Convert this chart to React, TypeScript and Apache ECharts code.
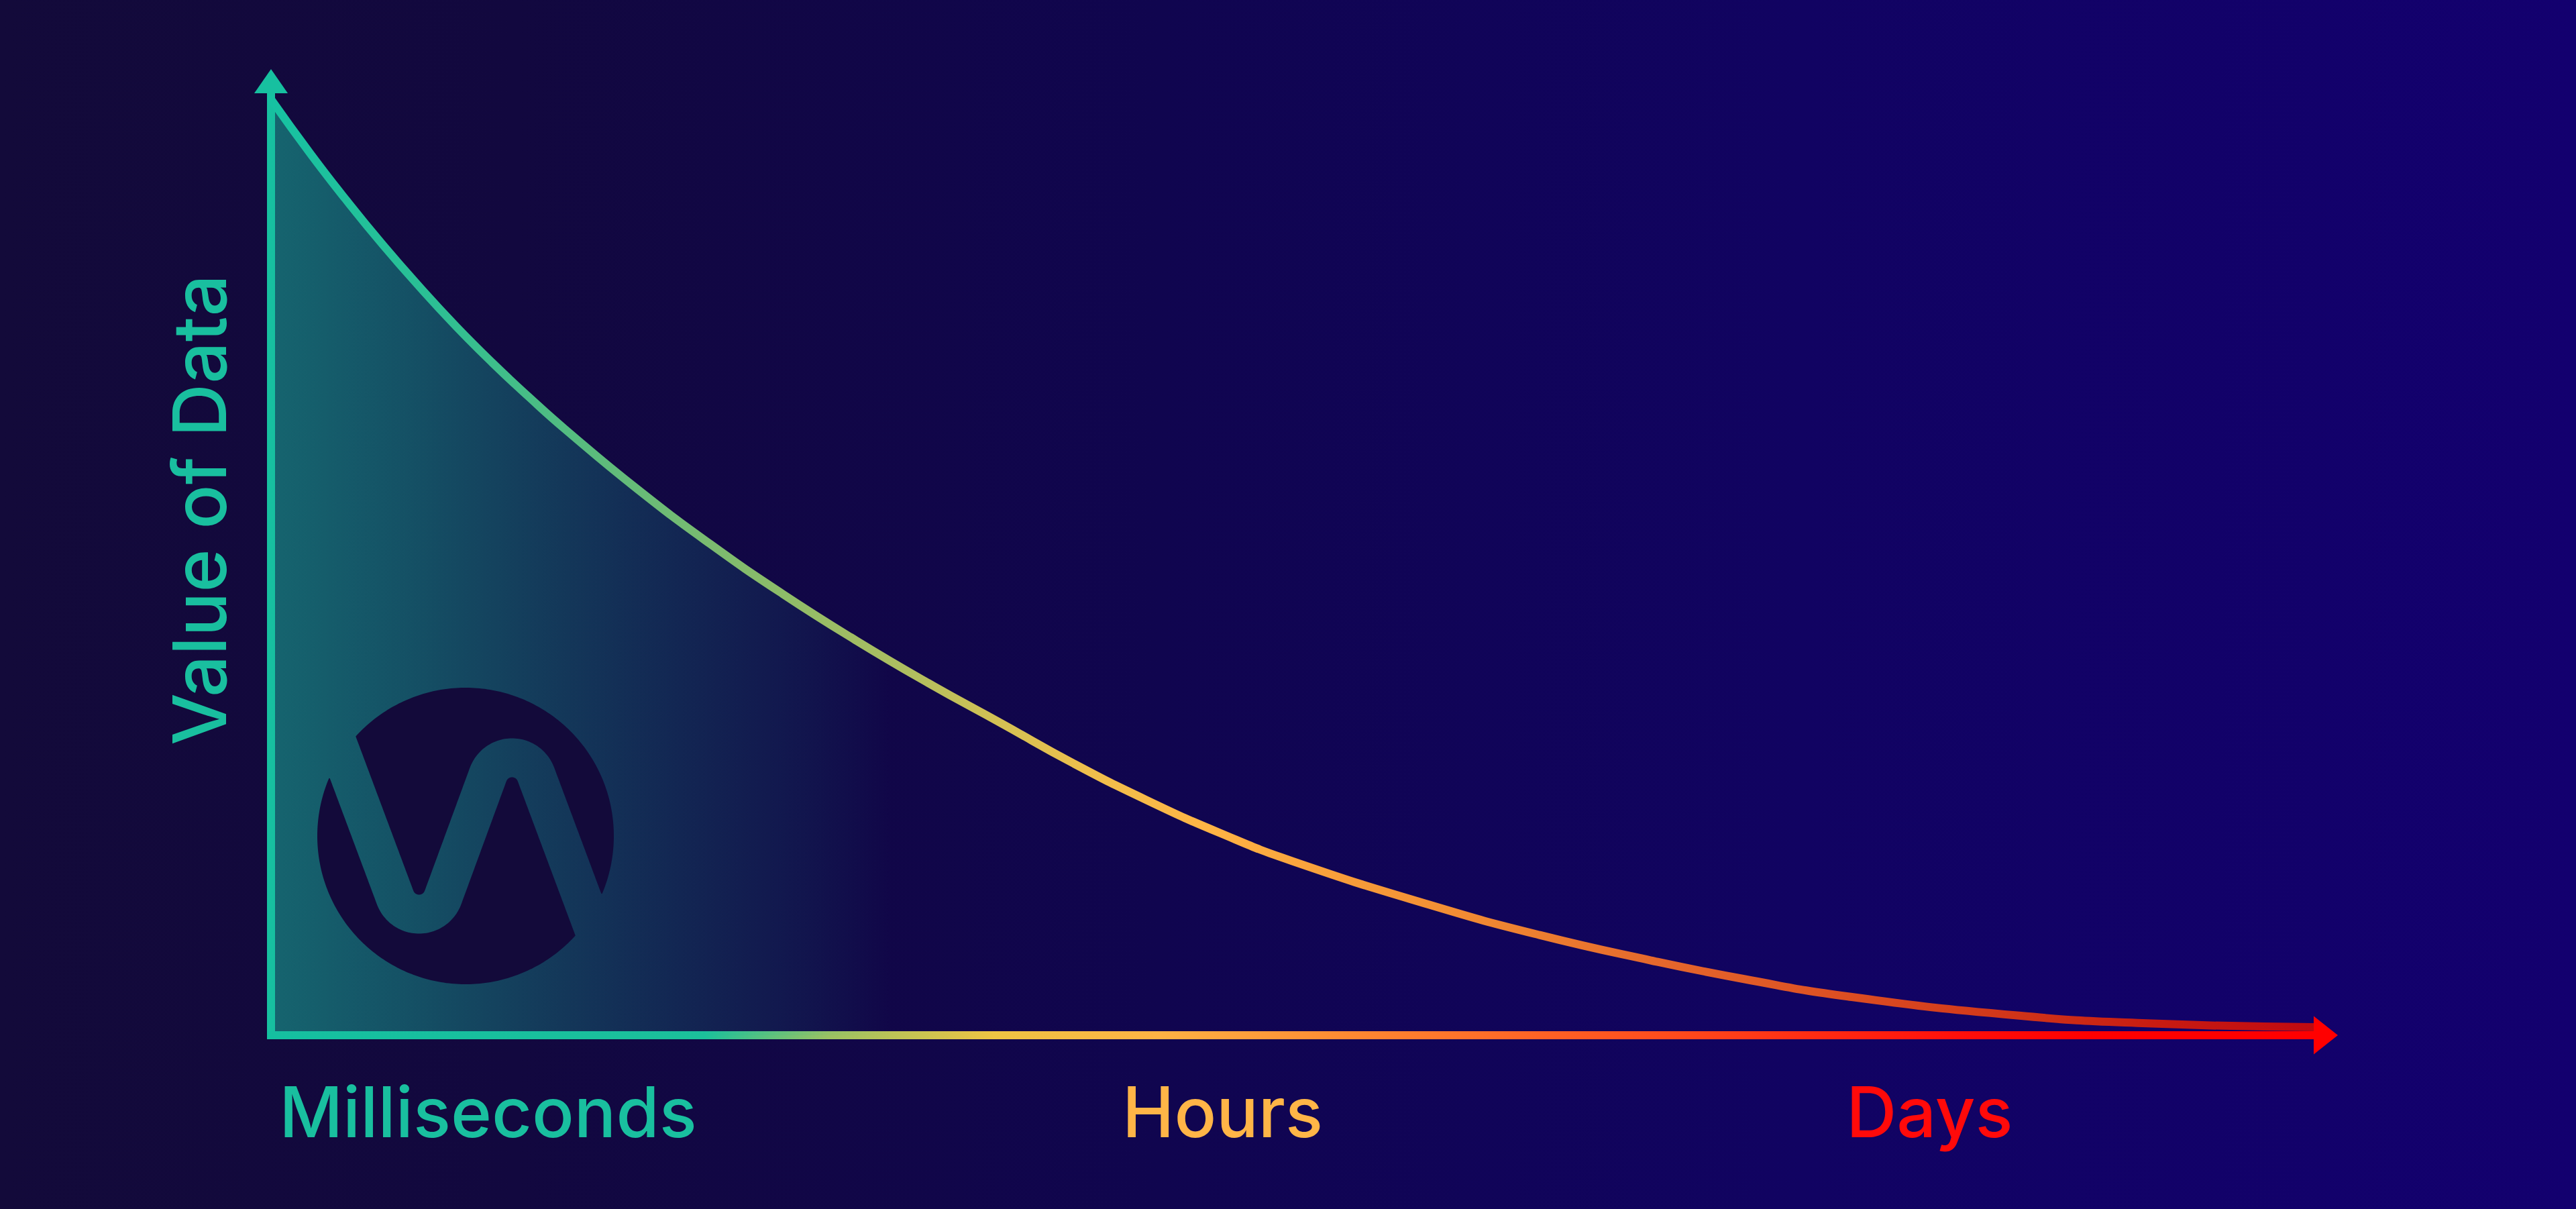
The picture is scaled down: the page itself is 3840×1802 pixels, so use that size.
import React, { useEffect, useRef } from "react";
import * as echarts from "echarts";

// ---- data ----
const timeValues = [0, 1.93, 3.69, 5.45, 7.22, 8.98, 10.77, 12.54, 14.3, 17.83, 21.38, 24.91, 28.47, 32.0, 35.55, 39.08, 42.6, 46.16, 49.69, 56.32, 61.74, 67.16, 71.69, 76.75, 85.08, 91.32, 99.44];
const dataValues = [98.1, 92.36, 87.46, 82.83, 78.46, 74.36, 70.49, 66.92, 63.54, 57.24, 51.48, 46.24, 41.38, 36.9, 32.68, 28.46, 24.66, 21.22, 18.26, 13.71, 10.5, 7.84, 5.89, 4.06, 2.05, 1.24, 0.85];
const scaleLabels = ["Milliseconds", "Hours", "Days"];
const scalePositions = [10.56, 46.31, 80.72];
const scaleColors = ["#19bf9f", "#ffb547", "#ff0a0a"];
const yTitle = "Value of Data";

// ---- layout / style constants ----
const GRID = { left: 404, right: 373, top: 121, bottom: 259 };
const AXIS_X0 = 404;
const ARROW_TIP_X = 3485;
const FADE_END_X = 1330;
const TEAL = "#17c0a0";
const FONT = "Inter";
const LOGO_BG = "#130a3a";

const areaAlphaStops: [number, number][] = [
  [0, 0.72],
  [0.23, 0.56],
  [0.42, 0.41],
  [0.57, 0.3],
  [0.69, 0.22],
  [0.86, 0.11],
  [1, 0],
];
const AREA_RGB = [24, 190, 160];

function nrm(a: number[]) {
  const l = Math.hypot(a[0], a[1]) || 1;
  return [a[0] / l, a[1] / l];
}
function roundedPolyline(pts: number[][], r: number, n = 30) {
  const out: number[][] = [pts[0]];
  for (let i = 1; i < pts.length - 1; i++) {
    const P = pts[i];
    const u1 = nrm([pts[i - 1][0] - P[0], pts[i - 1][1] - P[1]]);
    const u2 = nrm([pts[i + 1][0] - P[0], pts[i + 1][1] - P[1]]);
    const half = Math.acos(u1[0] * u2[0] + u1[1] * u2[1]) / 2;
    const d = r / Math.tan(half);
    const T1 = [P[0] + u1[0] * d, P[1] + u1[1] * d];
    const T2 = [P[0] + u2[0] * d, P[1] + u2[1] * d];
    const bis = nrm([u1[0] + u2[0], u1[1] + u2[1]]);
    const cd = r / Math.sin(half);
    const C = [P[0] + bis[0] * cd, P[1] + bis[1] * cd];
    const a1 = Math.atan2(T1[1] - C[1], T1[0] - C[0]);
    const a2 = Math.atan2(T2[1] - C[1], T2[0] - C[0]);
    let delta = a2 - a1;
    while (delta > Math.PI) delta -= 2 * Math.PI;
    while (delta < -Math.PI) delta += 2 * Math.PI;
    for (let k = 0; k <= n; k++) {
      const a = a1 + (delta * k) / n;
      out.push([C[0] + r * Math.cos(a), C[1] + r * Math.sin(a)]);
    }
  }
  out.push(pts[pts.length - 1]);
  return out;
}
function densify(pts: number[][], step: number) {
  const out: number[][] = [pts[0]];
  for (let i = 1; i < pts.length; i++) {
    const a = pts[i - 1];
    const b = pts[i];
    const L = Math.hypot(b[0] - a[0], b[1] - a[1]);
    const n = Math.max(1, Math.ceil(L / step));
    for (let k = 1; k <= n; k++) {
      out.push([a[0] + ((b[0] - a[0]) * k) / n, a[1] + ((b[1] - a[1]) * k) / n]);
    }
  }
  return out;
}
function offsetCurve(pts: number[][], d: number) {
  return pts.map((p, i) => {
    const a = pts[Math.max(0, i - 1)];
    const b = pts[Math.min(pts.length - 1, i + 1)];
    const t = nrm([b[0] - a[0], b[1] - a[1]]);
    return [p[0] + t[1] * d, p[1] - t[0] * d];
  });
}
function darkRegion(off: number[][], C: number[], R: number, decreasing: boolean) {
  const inside = off.filter((p) => Math.hypot(p[0] - C[0], p[1] - C[1]) < R);
  const first = inside[0];
  const last = inside[inside.length - 1];
  const aEntry = Math.atan2(first[1] - C[1], first[0] - C[0]);
  const aExit = Math.atan2(last[1] - C[1], last[0] - C[0]);
  let target = aEntry;
  if (decreasing) {
    while (target > aExit) target -= 2 * Math.PI;
  } else {
    while (target < aExit) target += 2 * Math.PI;
  }
  const arc: number[][] = [];
  const N = 160;
  for (let k = 0; k <= N; k++) {
    const a = aExit + ((target - aExit) * k) / N;
    arc.push([C[0] + R * Math.cos(a), C[1] + R * Math.sin(a)]);
  }
  return inside.concat(arc);
}

export default function App() {
  const ref = useRef<HTMLDivElement>(null);

  useEffect(() => {
    if (!ref.current) return;
    const chart = echarts.init(ref.current, undefined, { renderer: "svg" });

    const xAxisGrad = new echarts.graphic.LinearGradient(
      AXIS_X0, 0, ARROW_TIP_X, 0,
      [
        { offset: 0, color: "#14c0a0" },
        { offset: 0.21, color: "#1cc09a" },
        { offset: 0.27, color: "#9cc262" },
        { offset: 0.35, color: "#eec443" },
        { offset: 0.43, color: "#ffb244" },
        { offset: 0.52, color: "#ff8a32" },
        { offset: 0.62, color: "#ff6024" },
        { offset: 0.68, color: "#ff4a1c" },
        { offset: 0.75, color: "#ff2a12" },
        { offset: 0.82, color: "#ff0e0a" },
        { offset: 0.88, color: "#ff0000" },
        { offset: 1, color: "#ff0000" },
      ],
      true
    );

    const lineGrad = new echarts.graphic.LinearGradient(0, 0, 1, 0, [
      { offset: 0, color: "#16c2a2" },
      { offset: 0.08, color: "#2cbf94" },
      { offset: 0.16, color: "#5cbb7c" },
      { offset: 0.24, color: "#88bb6a" },
      { offset: 0.31, color: "#aebe60" },
      { offset: 0.35, color: "#cfc155" },
      { offset: 0.4, color: "#efbf4c" },
      { offset: 0.46, color: "#ffb445" },
      { offset: 0.51, color: "#f9a23c" },
      { offset: 0.57, color: "#f39034" },
      { offset: 0.62, color: "#ec7e30" },
      { offset: 0.68, color: "#e5672c" },
      { offset: 0.77, color: "#dc4e22" },
      { offset: 0.86, color: "#cf3218" },
      { offset: 0.92, color: "#c81c12" },
      { offset: 1, color: "#c00a10" },
    ]);

    const areaGrad = new echarts.graphic.LinearGradient(
      AXIS_X0, 0, FADE_END_X, 0,
      areaAlphaStops.map(([o, a]) => ({
        offset: o,
        color: `rgba(${AREA_RGB[0]},${AREA_RGB[1]},${AREA_RGB[2]},${a})`,
      })),
      true
    );

    // logo geometry: dark disc with a wave-shaped band cut out of it
    const LC = [694, 1246];
    const LR = 221;
    const HALF_BAND = 29;
    const S = [455, 979];
    const A = [625, 1434];
    const center = densify(
      roundedPolyline(
        [S, A, [2 * LC[0] - A[0], 2 * LC[1] - A[1]], [2 * LC[0] - S[0], 2 * LC[1] - S[1]]],
        38
      ),
      3
    );
    const upperRegion = darkRegion(offsetCurve(center, HALF_BAND), LC, LR, true);
    const lowerRegion = darkRegion(offsetCurve(center, -HALF_BAND), LC, LR, false);

    const labelIndex = (v: any) => {
      const num = Number(v);
      let best = 0;
      let bd = Infinity;
      scalePositions.forEach((p, i) => {
        const d = Math.abs(p - num);
        if (d < bd) {
          bd = d;
          best = i;
        }
      });
      return best;
    };

    chart.setOption({
      animation: false,
      backgroundColor: "transparent",
      grid: { ...GRID, containLabel: false },
      xAxis: {
        type: "value",
        min: 0,
        max: 100,
        axisLine: {
          show: true,
          onZero: false,
          symbol: ["none", "none"],
          lineStyle: { width: 12, color: xAxisGrad, cap: "square" },
        },
        axisTick: { show: false },
        splitLine: { show: false },
        axisLabel: {
          show: true,
          customValues: scalePositions,
          margin: 62,
          fontFamily: FONT,
          fontWeight: 500,
          fontSize: 104,
          lineHeight: 104,
          formatter: (v: any) => scaleLabels[labelIndex(v)],
          color: (v: any) => scaleColors[labelIndex(v)],
        },
      },
      yAxis: {
        type: "value",
        min: 0,
        max: 100,
        axisLine: {
          show: true,
          onZero: false,
          symbol: ["none", "triangle"],
          symbolSize: [50, 36],
          lineStyle: { width: 12, color: TEAL, cap: "square" },
        },
        axisTick: { show: false },
        axisLabel: { show: false },
        splitLine: { show: false },
      },
      series: [
        {
          type: "line",
          data: timeValues.map((x, i) => [x, dataValues[i]]),
          smooth: 0.5,
          symbol: "none",
          z: 3,
          lineStyle: { width: 12, color: lineGrad, cap: "round" },
          areaStyle: { color: areaGrad, origin: "start" },
          markPoint: {
            silent: true,
            symbol: "triangle",
            symbolSize: [57, 36],
            symbolRotate: -90,
            itemStyle: { color: "#ff0000" },
            label: { show: false },
            data: [{ coord: [100, 0] }],
          },
        },
      ],
      graphic: [
        {
          type: "polygon",
          z: 10,
          shape: { points: upperRegion },
          style: { fill: LOGO_BG },
        },
        {
          type: "polygon",
          z: 10,
          shape: { points: lowerRegion },
          style: { fill: LOGO_BG },
        },
        {
          type: "text",
          z: 12,
          x: 297,
          y: 760,
          rotation: Math.PI / 2,
          style: {
            text: yTitle,
            fill: "#19bf9f",
            fontSize: 110,
            fontFamily: FONT,
            fontWeight: 500,
            align: "center",
            verticalAlign: "middle",
          },
        },
      ],
    });

    return () => chart.dispose();
  }, []);

  return (
    <div
      ref={ref}
      style={{
        position: "fixed",
        left: 0,
        top: 0,
        width: "3840px",
        height: "1802px",
        background:
          "linear-gradient(90deg, #130a3a 0%, #12083f 20%, #10054f 45%, #110362 70%, #13006f 100%)",
      }}
    />
  );
}
